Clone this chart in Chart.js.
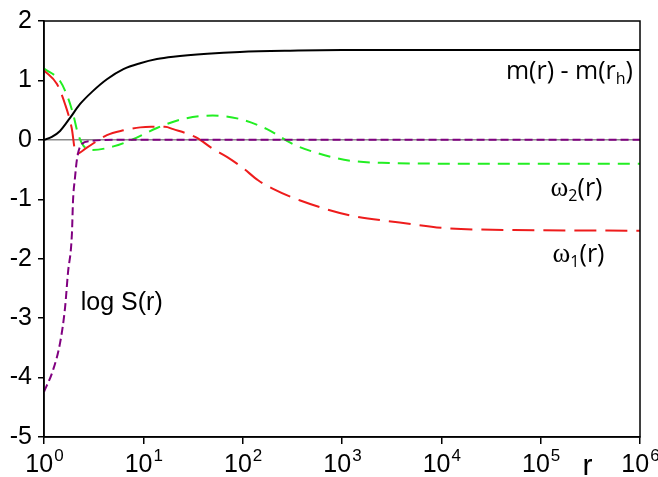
<!DOCTYPE html>
<html lang="en">
<head>
<meta charset="UTF-8">
<title>m(r), omega(r), log S(r)</title>
<script src="https://cdn.jsdelivr.net/npm/chart.js"></script>
<style>
  html, body { margin: 0; padding: 0; background: #fff; }
  #wrap { width: 658px; height: 477px; }
</style>
</head>
<body>
<div id="wrap"><canvas id="chart"></canvas></div>
<script>
// values (r on a log axis)
const mR   = [1, 1.2, 1.45, 1.83, 2.3, 3.1, 4.3, 6.3, 9.3, 13.7, 20, 44, 94, 300, 1000, 1e4, 1e6];
const mVal = [0, 0.05, 0.15, 0.37, 0.6, 0.82, 1.02, 1.19, 1.29, 1.36, 1.4, 1.45, 1.48, 1.5, 1.51, 1.51, 1.51];

const w2R   = [1, 1.45, 1.75, 1.96, 2.2, 2.5, 3.1, 5, 7.9, 13.7, 25, 50, 94, 176, 320, 560, 1200, 3000, 1e4, 1e6];
const w2Val = [1.2, 0.99, 0.7, 0.44, 0.1, -0.1, -0.17, -0.11, 0.01, 0.2, 0.35, 0.41, 0.35, 0.18, -0.07, -0.22, -0.35, -0.39, -0.4, -0.4];

const w1R   = [1, 1.35, 1.63, 1.9, 2.1, 2.7, 4.3, 6.3, 9.3, 12, 16.5, 20, 34, 50, 70, 100, 143, 200, 380, 1200, 3800, 12000, 1e5, 1e6];
const w1Val = [1.17, 0.94, 0.6, 0.2, -0.24, -0.13, 0.08, 0.16, 0.21, 0.22, 0.22, 0.18, 0.04, -0.15, -0.29, -0.47, -0.68, -0.82, -1.02, -1.27, -1.39, -1.49, -1.52, -1.53];

const sR   = [1, 1.23, 1.45, 1.63, 1.74, 1.91, 1.96, 2.05, 2.15, 2.4, 2.9, 5, 1e6];
const sVal = [-4.24, -3.88, -3.42, -2.82, -2.25, -1.58, -1.02, -0.64, -0.32, -0.07, -0.02, 0, 0];

const xTicks = [1, 10, 100, 1e3, 1e4, 1e5, 1e6];
const xTickExp = ['0', '1', '2', '3', '4', '5', '6'];
const yTicks = [-5, -4, -3, -2, -1, 0, 1, 2];

// curve labels: [text, kind] pieces, kind n = normal, g = greek, s = subscript, a = arial
const curveLabels = [
  { r: 10 ** 4.65, y: 1.02, parts: [['m(r) - m(r', 'n'], ['h', 's'], [')', 'n']] },
  { r: 10 ** 5.1, y: -0.94, parts: [['\u03c9', 'g'], ['2', 's'], ['(r)', 'n']] },
  { r: 10 ** 5.12, y: -2.05, parts: [['\u03c9', 'g'], ['1', 's'], ['(r)', 'n']] },
  { r: 10 ** 0.37, y: -2.87, parts: [['log S(r)', 'a']] }
];

const pts = (xs, ys) => xs.map((x, i) => ({ x: x, y: ys[i] }));

// frame, x tick labels with exponents, curve labels
const extras = {
  id: 'extras',
  afterDraw(chart) {
    const ctx = chart.ctx;
    const a = chart.chartArea;
    const xs = chart.scales.x, ys = chart.scales.y;
    ctx.save();
    ctx.strokeStyle = '#000';
    ctx.lineWidth = 1.5;
    ctx.strokeRect(a.left, a.top, a.right - a.left, a.bottom - a.top);

    ctx.fillStyle = '#000';
    ctx.textBaseline = 'alphabetic';
    const big = '25px "Liberation Sans", Arial, sans-serif';
    const sup = '17px "Liberation Sans", Arial, sans-serif';
    xTicks.forEach((v, i) => {
      const px = xs.getPixelForValue(v);
      ctx.font = big;
      const w1 = ctx.measureText('10').width;
      ctx.font = sup;
      const w2 = ctx.measureText(xTickExp[i]).width;
      const x0 = px - (w1 + w2) / 2;
      ctx.font = big;
      ctx.fillText('10', x0, a.bottom + 35);
      ctx.font = sup;
      ctx.fillText(xTickExp[i], x0 + w1 + 1, a.bottom + 24);
    });

    ctx.font = '30px "Liberation Sans", Arial, sans-serif';
    ctx.fillText('r', xs.getPixelForValue(10 ** 5.42), a.bottom + 38);

    const fonts = {
      n: '25px "Open Sans", sans-serif',
      g: '27px "Liberation Serif", serif',
      s: '16px "Open Sans", sans-serif',
      a: '25px "Liberation Sans", Arial, sans-serif'
    };
    curveLabels.forEach(l => {
      let x = xs.getPixelForValue(l.r);
      const base = ys.getPixelForValue(l.y);
      l.parts.forEach(([t, k]) => {
        ctx.font = fonts[k];
        ctx.fillText(t, x, k === 's' ? base + 5 : base);
        x += ctx.measureText(t).width;
      });
    });
    ctx.restore();
  }
};

new Chart(document.getElementById('chart'), {
  type: 'line',
  data: {
    datasets: [
      { label: 'log S(r)', data: pts(sR, sVal), borderColor: '#800080', borderWidth: 2, borderDash: [8, 4], order: 1 },
      { label: 'omega1(r)', data: pts(w1R, w1Val), borderColor: '#ee1c1c', borderWidth: 2, borderDash: [22, 9], order: 2 },
      { label: 'omega2(r)', data: pts(w2R, w2Val), borderColor: '#22ee22', borderWidth: 2, borderDash: [12, 8], order: 3 },
      { label: 'm(r) - m(rh)', data: pts(mR, mVal), borderColor: '#000', borderWidth: 2, order: 4 }
    ]
  },
  options: {
    responsive: true,
    maintainAspectRatio: false,
    animation: false,
    layout: { padding: { top: 20, right: 18, left: 0, bottom: 0 } },
    elements: {
      point: { radius: 0 },
      line: { cubicInterpolationMode: 'monotone', fill: false }
    },
    plugins: { legend: { display: false }, tooltip: { enabled: false } },
    scales: {
      x: {
        type: 'logarithmic',
        min: 1,
        max: 1e6,
        afterBuildTicks: s => { s.ticks = xTicks.map(v => ({ value: v })); },
        afterFit: s => { s.height = 40; },
        ticks: { display: false },
        border: { display: true, color: '#000', width: 1.5 },
        grid: { drawOnChartArea: false, color: '#000', tickLength: 7, lineWidth: 1.5 }
      },
      y: {
        type: 'linear',
        min: -5,
        max: 2,
        afterBuildTicks: s => { s.ticks = yTicks.map(v => ({ value: v })); },
        afterFit: s => { s.width = 44; },
        ticks: { color: '#000', font: { family: '"Liberation Sans", Arial, sans-serif', size: 25 }, padding: 6 },
        border: { display: true, color: '#000', width: 1.5 },
        grid: {
          color: c => (c.tick && c.tick.value === 0 ? '#8a8a8a' : 'transparent'),
          tickColor: '#000',
          tickLength: 6,
          lineWidth: 1.5
        }
      }
    }
  },
  plugins: [extras]
});
</script>
</body>
</html>
